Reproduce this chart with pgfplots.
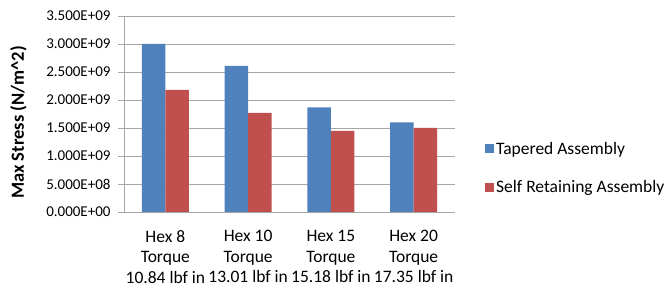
\documentclass[border=0pt]{standalone}
\usepackage{pgfplots}
\pgfplotsset{compat=1.18}
\usepackage{fontspec}
\setmainfont{Carlito}
\definecolor{xblue}{HTML}{4F81BD}
\definecolor{xred}{HTML}{C0504D}
\definecolor{xgrid}{HTML}{A6A6A6}
\begin{document}
\begin{tikzpicture}
\useasboundingbox (-124pt,-76pt) rectangle (542pt,212pt);
\begin{axis}[
  at={(0pt,0pt)}, anchor=south west,
  scale only axis, width=331pt, height=196pt,
  ybar=0pt, bar width=23.5pt,
  xmin=-0.5, xmax=3.5, ymin=0, ymax=3.5e9,
  scaled y ticks=false,
  axis x line*=bottom, axis y line*=left,
  axis line style={xgrid, line width=0.8pt},
  xtick={0,1,2,3},
  xticklabels={Hex 8\\Torque\\10.84 lbf in, Hex 10\\Torque\\13.01 lbf in, Hex 15\\Torque\\15.18 lbf in, Hex 20\\Torque\\17.35 lbf in},
  xticklabel style={align=center, font=\fontsize{17.5}{20.5}\selectfont, yshift=-9pt},
  x tick style={draw=none},
  extra x ticks={-0.5,0.5,1.5,2.5,3.5},
  extra x tick labels={},
  extra x tick style={grid=none, tick style={draw=xgrid, line width=0.8pt}, major tick length=6pt, tick align=outside},
  ytick={0,0.5e9,1e9,1.5e9,2e9,2.5e9,3e9,3.5e9},
  yticklabels={\mbox{0.000E+00},\mbox{5.000E+08},\mbox{1.000E+09},\mbox{1.500E+09},\mbox{2.000E+09},\mbox{2.500E+09},\mbox{3.000E+09},\mbox{3.500E+09}},
  yticklabel style={font=\fontsize{15}{17}\selectfont, xshift=-4pt},
  y tick style={draw=xgrid, line width=0.8pt},
  tick align=outside, major tick length=6pt,
  ymajorgrids, grid style={xgrid, line width=0.8pt},
  ylabel={\bfseries Max Stress (N/m\textasciicircum2)},
  ylabel style={font=\fontsize{18.5}{21}\selectfont, at={(axis description cs:-0.319,0.457)}, anchor=center, rotate=0},
  legend style={draw=none, at={(1,0.2245)}, anchor=west, xshift=27pt,
    font=\fontsize{17.5}{20}\selectfont, row sep=20.5pt, cells={anchor=west}},
  legend image code/.code={\fill[#1] (0pt,-4.5pt) rectangle (9pt,4.5pt);},
]
\addplot[fill=xblue, draw=none] coordinates {(0,3.0e9) (1,2.61e9) (2,1.87e9) (3,1.60e9)};
\addplot[fill=xred, draw=none] coordinates {(0,2.18e9) (1,1.77e9) (2,1.45e9) (3,1.50e9)};
\legend{Tapered Assembly, Self Retaining Assembly}
\end{axis}
\end{tikzpicture}
\end{document}
